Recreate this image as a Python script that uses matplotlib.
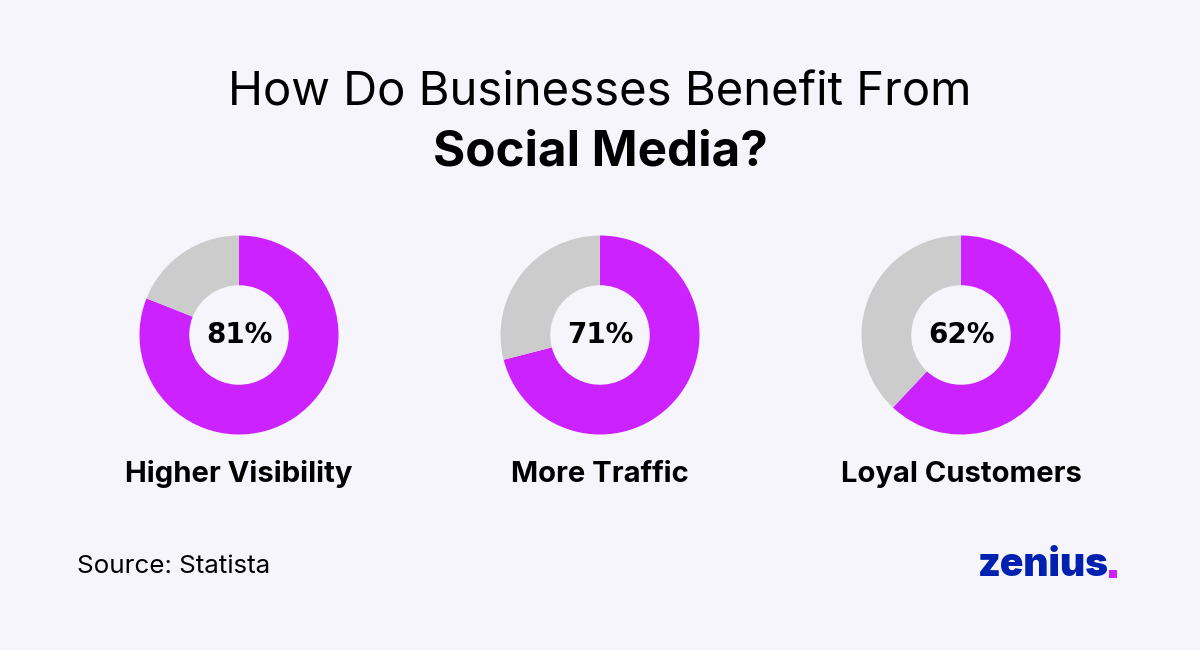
import matplotlib
matplotlib.use("Agg")
import matplotlib.pyplot as plt
from matplotlib.patches import Rectangle

labels = ["Higher Visibility", "More Traffic", "Loyal Customers"]
values = [81, 71, 62]
title_top = "How Do Businesses Benefit From"
title_bottom = "Social Media?"
source = "Source: Statista"

BG = "#f5f5fb"
PURPLE = "#cb22ff"
GREY = "#cccccc"
W, H = 1200, 650

fig = plt.figure(figsize=(W / 100, H / 100), dpi=100, facecolor=BG)
plt.rcParams["font.family"] = ["Inter", "DejaVu Sans"]

centers = [239, 600, 961]
R = 99.5

for cx, val, lab in zip(centers, values, labels):
    ax = fig.add_axes([(cx - R) / W, 1 - (335 + R) / H, 2 * R / W, 2 * R / H])
    ax.pie([val, 100 - val], colors=[PURPLE, GREY], startangle=90, counterclock=False,
           radius=1.0, wedgeprops=dict(width=0.5, linewidth=0))
    ax.set_xlim(-1, 1)
    ax.set_ylim(-1, 1)
    ax.text(0, 0, f"{val}%", ha="center", va="center", fontsize=20, fontweight="bold",
            family="DejaVu Sans", color="black")
    fig.text(cx / W, 1 - 474 / H, lab, ha="center", va="center", fontsize=21,
             fontweight="bold", family="Inter", color="black")

fig.text(600 / W, 1 - 94 / H, title_top, ha="center", va="center", fontsize=34,
         fontweight="normal", color="black")
fig.text(600 / W, 1 - 152 / H, title_bottom, ha="center", va="center", fontsize=35.5,
         fontweight="bold", color="black")
fig.text(77 / W, 1 - 566.5 / H, source, ha="left", va="center", fontsize=18.7,
         fontweight="normal", color="black")

# logo wordmark, the dot is a small square
fig.text(978 / W, 1 - 566 / H, "zenius", ha="left", va="center", fontsize=28,
         fontweight="black", color="#0020b0")
fig.add_artist(Rectangle((1109 / W, 1 - 578 / H), 8 / W, 8 / H, transform=fig.transFigure,
                         facecolor=PURPLE, edgecolor="none"))

fig.savefig("out.png", dpi=100, facecolor=BG)
